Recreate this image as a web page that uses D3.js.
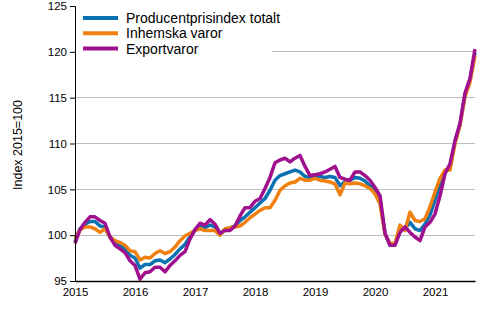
<!DOCTYPE html>
<html><head><meta charset="utf-8">
<script src="https://cdn.jsdelivr.net/npm/d3@7"></script>
<style>body{margin:0;background:#fff}svg{display:block;font-family:"Liberation Sans",Arial,sans-serif}</style>
</head><body><svg id="c" width="500" height="330"></svg>
<script>
const startYear = 2015;
const yearLabels = ["2015","2016","2017","2018","2019","2020","2021"];
const yTicks = [95,100,105,110,115,120,125];
const seriesNames = ["Producentprisindex totalt","Inhemska varor","Exportvaror"];
const colors = ["#0a72b0","#f08010","#a0108e"];
const total = [99.3,100.7,101.2,101.5,101.5,101.0,100.9,99.8,99.2,98.9,98.5,97.8,
97.5,96.4,96.8,96.8,97.2,97.3,97.0,97.4,97.9,98.5,99.0,99.8,
100.6,101.0,100.8,101.1,100.9,100.1,100.6,100.8,101.0,101.6,102.0,102.5,
103.0,103.5,104.0,104.9,106.0,106.5,106.7,106.9,107.1,106.9,106.4,106.3,
106.4,106.4,106.3,106.4,106.3,105.4,105.8,106.0,106.3,106.2,105.9,105.4,
104.8,103.8,100.2,98.9,99.0,100.6,100.7,101.4,100.7,100.5,101.2,102.2,
103.8,105.6,107.0,107.4,110.2,112.1,115.3,116.9,119.9];
const domestic = [99.6,100.6,100.9,100.9,100.7,100.3,100.7,99.8,99.4,99.2,98.9,98.3,
98.2,97.3,97.6,97.5,98.0,98.3,98.0,98.2,98.7,99.4,99.9,100.2,
100.5,100.7,100.5,100.5,100.5,100.0,100.7,100.8,100.9,101.0,101.4,101.9,
102.3,102.7,103.0,103.0,103.8,104.9,105.4,105.7,105.8,106.2,106.0,106.0,
106.2,106.0,105.9,105.8,105.6,104.4,105.7,105.6,105.7,105.6,105.4,105.1,
104.5,103.4,100.1,99.1,99.1,101.1,100.5,102.5,101.6,101.5,101.8,103.1,
104.7,106.2,107.1,107.1,110.0,112.0,115.1,116.7,119.6];
const exportv = [99.1,100.6,101.4,102.0,102.0,101.6,101.3,99.8,98.9,98.5,98.1,97.2,
96.7,95.2,95.9,96.0,96.5,96.5,96.0,96.7,97.2,97.8,98.2,99.6,
100.6,101.3,101.1,101.7,101.2,100.2,100.5,100.5,101.0,102.1,103.0,103.0,
103.7,104.0,105.1,106.3,107.9,108.2,108.4,108.0,108.4,108.7,107.5,106.5,
106.6,106.7,106.9,107.2,107.5,106.3,106.1,106.0,106.9,106.9,106.5,106.0,
105.2,104.3,100.2,98.9,98.9,100.3,100.9,100.3,99.8,99.4,100.9,101.4,
102.3,104.3,106.7,107.8,110.3,112.2,115.5,117.1,120.3];
const seriesData = [total, domestic, exportv];

const svg = d3.select("#c");
const L = 75, R = 475, T = 6, B = 281;
const x = d3.scaleLinear().domain([0, total.length - 1]).range([L, R]);
const y = d3.scaleLinear().domain([95, 125]).range([B, T]);

// gridlines
svg.append("g").selectAll("line").data(yTicks.filter(v => v > 95 && v < 125)).join("line")
  .attr("x1", L).attr("x2", R).attr("y1", d => y(d)).attr("y2", d => y(d))
  .attr("stroke", "#bdbdbd").attr("stroke-width", 1).attr("shape-rendering","crispEdges");

// lines
const line = d3.line().x((d, i) => x(i)).y(d => y(d));
seriesData.forEach((s, k) => {
  svg.append("path").datum(s).attr("d", line).attr("fill", "none")
    .attr("stroke", colors[k]).attr("stroke-width", 3.5).attr("stroke-linejoin", "round");
});

// legend
const lg = svg.append("g");
lg.append("rect").attr("x", 76).attr("y", 7).attr("width", 196).attr("height", 50).attr("fill", "#fff");
seriesNames.forEach((n, k) => {
  const yy = 18 + k * 15.3;
  lg.append("line").attr("x1", 83).attr("x2", 118).attr("y1", yy).attr("y2", yy)
    .attr("stroke", colors[k]).attr("stroke-width", 4);
  lg.append("text").attr("x", 126).attr("y", yy + 5).attr("font-size", 14).attr("fill", "#000").text(n);
});

// y axis
const ya = svg.append("g").attr("transform", `translate(${L},0)`)
  .call(d3.axisLeft(y).tickValues(yTicks).tickSize(5).tickPadding(3).tickFormat(d3.format("d")));
ya.select(".domain").attr("stroke", "#000");
ya.selectAll(".tick line").attr("stroke", "#000");
ya.selectAll("text").attr("font-size", 11.5).attr("fill", "#000").attr("font-family", '"Liberation Sans",Arial,sans-serif');

// x axis
const xa = svg.append("g").attr("transform", `translate(0,${B})`)
  .call(d3.axisBottom(x).tickValues(yearLabels.map((d, i) => i * 12)).tickSize(0).tickPadding(7)
    .tickFormat((d, i) => yearLabels[i]));
xa.select(".domain").attr("stroke", "#000").attr("stroke-width", 1.5);
xa.selectAll("text").attr("font-size", 11.5).attr("fill", "#000").attr("font-family", '"Liberation Sans",Arial,sans-serif');

// y title
svg.append("text").attr("transform", "translate(22,145) rotate(-90)").attr("text-anchor", "middle")
  .attr("font-size", 12.5).attr("fill", "#000").text("Index 2015=100");
</script></body></html>
